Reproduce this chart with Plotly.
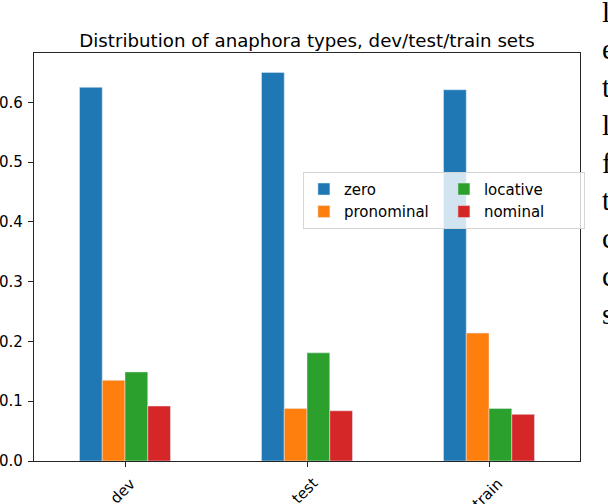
import plotly.graph_objects as go

sets = ["dev", "test", "train"]
zero = [0.625, 0.650, 0.621]
pronominal = [0.135, 0.088, 0.214]
locative = [0.149, 0.181, 0.088]
nominal = [0.092, 0.084, 0.078]

y_ticks = [0.0, 0.1, 0.2, 0.3, 0.4, 0.5, 0.6]
side_letters = ["l", "e", "t", "l", "f", "t", "c", "c", "s"]

fig = go.Figure()
fig.add_trace(go.Bar(x=sets, y=zero, name="zero", marker_color="#1f77b4", legendrank=1))
fig.add_trace(go.Bar(x=sets, y=pronominal, name="pronominal", marker_color="#ff7f0e", legendrank=3))
fig.add_trace(go.Bar(x=sets, y=locative, name="locative", marker_color="#2ca02c", legendrank=2))
fig.add_trace(go.Bar(x=sets, y=nominal, name="nominal", marker_color="#d62728", legendrank=4))

# rotated category labels, centred under each tick like matplotlib does
for s in sets:
    fig.add_annotation(text=s, x=s, xref="x", y=0, yref="paper",
                       xanchor="center", yanchor="top", yshift=-11, xshift=-2,
                       textangle=-45, showarrow=False, font=dict(size=15))

# bits of the paper's body text cut off on the right
for i, ch in enumerate(side_letters):
    base = 22 + 37.7 * i
    fig.add_annotation(text=ch, xref="paper", yref="paper",
                       x=(600 - 34.3) / 545.7, y=(460.7 - (base - 10)) / 407.4,
                       xanchor="left", yanchor="middle", showarrow=False,
                       font=dict(family="Liberation Serif", size=29, color="black"))

fig.update_layout(
    width=608, height=504,
    margin=dict(l=34.3, r=28, t=53.3, b=43.3),
    plot_bgcolor="white", paper_bgcolor="white",
    barmode="group", bargap=0.5, bargroupgap=0,
    font=dict(family="DejaVu Sans", size=15, color="black"),
    title=dict(text="Distribution of anaphora types, dev/test/train sets",
               x=0.5, xref="paper", xanchor="center",
               y=1, yref="paper", yanchor="bottom", pad=dict(b=6),
               font=dict(size=18.2, color="black")),
    legend=dict(orientation="h", x=1.009, xanchor="right", y=0.639, yanchor="middle",
                entrywidth=95, bordercolor="#d6d6d6", borderwidth=1,
                bgcolor="rgba(255,255,255,0.8)", font=dict(size=15), traceorder="normal"),
)
fig.update_xaxes(range=[-0.5, 2.5], showline=True, linecolor="#262626", linewidth=1.2,
                 mirror=True, ticks="outside", ticklen=5, tickcolor="#262626",
                 showticklabels=False, showgrid=False, automargin=False)
fig.update_yaxes(range=[0, 0.6825], tickvals=y_ticks, tickformat=".1f",
                 showline=True, linecolor="#262626", linewidth=1.2, mirror=True,
                 ticks="outside", ticklen=5, tickcolor="#262626", showgrid=False,
                 ticklabelstandoff=2, zeroline=False, automargin=False)

# page body has a default 8px margin; drop it so the figure sits at 0,0
fig.write_html("out.html", config={"displayModeBar": False},
               post_script="document.body.style.margin='0px';")
